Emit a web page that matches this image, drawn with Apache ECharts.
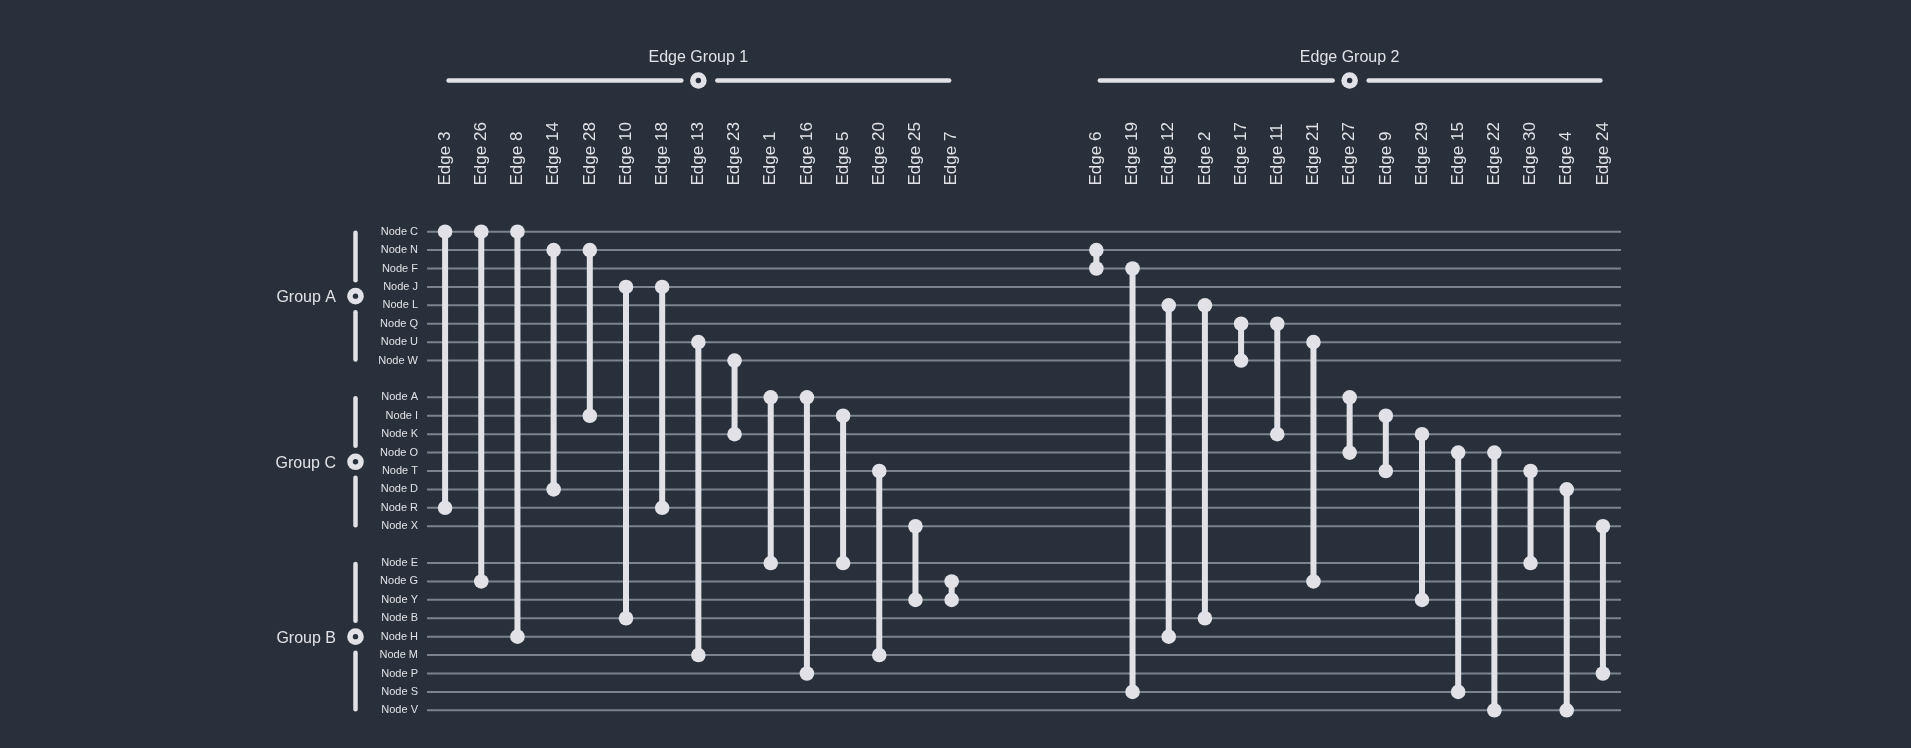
<!DOCTYPE html>
<html><head><meta charset="utf-8">
<script src="https://cdn.jsdelivr.net/npm/echarts@6/dist/echarts.min.js"></script>
<style>html,body{margin:0;padding:0;background:#29303b}#chart{width:1911px;height:748px}</style>
</head><body><div id="chart"></div>
<script>
// ---- data ----
const groupNames = ['Group A', 'Group C', 'Group B'];
const groupANodes = ['Node C','Node N','Node F','Node J','Node L','Node Q','Node U','Node W'];
const groupCNodes = ['Node A','Node I','Node K','Node O','Node T','Node D','Node R','Node X'];
const groupBNodes = ['Node E','Node G','Node Y','Node B','Node H','Node M','Node P','Node S','Node V'];

const edgeGroupNames = ['Edge Group 1', 'Edge Group 2'];
const edgeGroup1 = ['Edge 3','Edge 26','Edge 8','Edge 14','Edge 28','Edge 10','Edge 18','Edge 13','Edge 23','Edge 1','Edge 16','Edge 5','Edge 20','Edge 25','Edge 7'];
const edgeGroup1From = ['Node C','Node C','Node C','Node N','Node N','Node J','Node J','Node U','Node W','Node A','Node A','Node I','Node T','Node X','Node G'];
const edgeGroup1To   = ['Node R','Node G','Node H','Node D','Node I','Node B','Node R','Node M','Node K','Node E','Node P','Node E','Node M','Node Y','Node Y'];
const edgeGroup2 = ['Edge 6','Edge 19','Edge 12','Edge 2','Edge 17','Edge 11','Edge 21','Edge 27','Edge 9','Edge 29','Edge 15','Edge 22','Edge 30','Edge 4','Edge 24'];
const edgeGroup2From = ['Node N','Node F','Node L','Node L','Node Q','Node Q','Node U','Node A','Node I','Node K','Node O','Node O','Node T','Node D','Node X'];
const edgeGroup2To   = ['Node F','Node S','Node H','Node B','Node W','Node K','Node G','Node O','Node T','Node Y','Node S','Node V','Node E','Node V','Node P'];

// ---- derived layout structures ----
const BG = '#29303b', LIGHT = '#e1e1e7', GRIDLINE = '#7b838f';
const FONT = '"Liberation Sans", Arial, Helvetica, sans-serif';
const nodeGroups = [groupANodes, groupCNodes, groupBNodes];
const rows = [];
const groupRanges = [];
nodeGroups.forEach((g, gi) => {
  if (gi > 0) rows.push('__gap' + gi);
  const first = rows.length;
  g.forEach(n => rows.push(n));
  groupRanges.push([0, first, rows.length - 1, gi]);
});
const edgeGroups = [[edgeGroup1, edgeGroup1From, edgeGroup1To], [edgeGroup2, edgeGroup2From, edgeGroup2To]];
const cols = [];
const edgeData = [];
const colRanges = [];
edgeGroups.forEach((eg, gi) => {
  if (gi > 0) { cols.push('__sp1'); cols.push('__sp2'); cols.push('__sp3'); }
  const first = cols.length;
  eg[0].forEach((e, i) => {
    edgeData.push([cols.length, rows.indexOf(eg[1][i]), rows.indexOf(eg[2][i])]);
    cols.push(e);
  });
  const last = cols.length - 1;
  colRanges.push([first, last, Math.round((first + last) / 2), 0, gi]);
});
const nodeLineData = rows.map((r, i) => [0, i, r]).filter(d => !String(d[2]).startsWith('__'));

function ring(cx, cy) {
  return [
    {type: 'circle', shape: {cx, cy, r: 8.3}, style: {fill: LIGHT}},
    {type: 'circle', shape: {cx, cy, r: 2.7}, style: {fill: BG}}
  ];
}

const chart = echarts.init(document.getElementById('chart'), null, {renderer: 'canvas'});
chart.setOption({
  backgroundColor: BG,
  animation: false,
  grid: {left: 427, top: 222.5, width: 1194, height: 497, containLabel: false, outerBoundsMode: 'none'},
  xAxis: {
    type: 'category', data: cols, position: 'top', boundaryGap: true,
    axisLine: {show: false}, axisTick: {show: false}, splitLine: {show: false},
    axisLabel: {
      rotate: -90, margin: 37, interval: 0, fontSize: 17, color: LIGHT, fontFamily: FONT,
      formatter: v => v.startsWith('__') ? '' : v
    }
  },
  yAxis: {
    type: 'category', data: rows, inverse: true, boundaryGap: true,
    axisLine: {show: false}, axisTick: {show: false}, splitLine: {show: false},
    axisLabel: {
      margin: 9, interval: 0, fontSize: 11, color: LIGHT, fontFamily: FONT,
      formatter: v => v.startsWith('__') ? '' : v
    }
  },
  series: [
    { // horizontal node lines
      type: 'custom', clip: false, silent: true,
      encode: {x: 0, y: 1},
      data: nodeLineData,
      renderItem: (params, api) => {
        const cs = params.coordSys;
        const y = api.coord([0, api.value(1)])[1];
        return {type: 'line', shape: {x1: cs.x, y1: y, x2: cs.x + cs.width, y2: y},
                style: {stroke: GRIDLINE, lineWidth: 2}};
      }
    },
    { // edges
      type: 'custom', clip: false,
      encode: {x: 0, y: [1, 2]},
      data: edgeData,
      renderItem: (params, api) => {
        const x = api.coord([api.value(0), 0])[0];
        const y1 = api.coord([0, api.value(1)])[1];
        const y2 = api.coord([0, api.value(2)])[1];
        return {type: 'group', children: [
          {type: 'line', shape: {x1: x, y1, x2: x, y2}, style: {stroke: LIGHT, lineWidth: 6}},
          {type: 'circle', shape: {cx: x, cy: y1, r: 7.3}, style: {fill: LIGHT}},
          {type: 'circle', shape: {cx: x, cy: y2, r: 7.3}, style: {fill: LIGHT}}
        ]};
      }
    },
    { // node group brackets
      type: 'custom', clip: false, silent: true,
      encode: {x: 0, y: [1, 2]},
      data: groupRanges,
      renderItem: (params, api) => {
        const cs = params.coordSys;
        const x = cs.x - 71.5;
        const y1 = api.coord([0, api.value(1)])[1];
        const y2 = api.coord([0, api.value(2)])[1];
        const yc = (y1 + y2) / 2;
        const lineStyle = {stroke: LIGHT, lineWidth: 4.5, lineCap: 'round'};
        return {type: 'group', children: [
          {type: 'line', shape: {x1: x, y1: y1 + 1, x2: x, y2: yc - 16}, style: lineStyle},
          {type: 'line', shape: {x1: x, y1: yc + 16, x2: x, y2: y2 - 1}, style: lineStyle},
          ...ring(x, yc),
          {type: 'text', style: {text: groupNames[api.value(3)], x: x - 19.5, y: yc + 1.5,
            align: 'right', verticalAlign: 'middle', fill: LIGHT, fontSize: 16, fontFamily: FONT}}
        ]};
      }
    },
    { // edge group headers
      type: 'custom', clip: false, silent: true,
      encode: {x: [0, 1, 2], y: 3},
      data: colRanges,
      renderItem: (params, api) => {
        const cs = params.coordSys;
        const y = cs.y - 142;
        const x1 = api.coord([api.value(0), 0])[0];
        const x2 = api.coord([api.value(1), 0])[0];
        const xc = api.coord([api.value(2), 0])[0];
        const lineStyle = {stroke: LIGHT, lineWidth: 4.5, lineCap: 'round'};
        return {type: 'group', children: [
          {type: 'line', shape: {x1: x1 + 3.5, y1: y, x2: xc - 17, y2: y}, style: lineStyle},
          {type: 'line', shape: {x1: xc + 19, y1: y, x2: x2 - 2.5, y2: y}, style: lineStyle},
          ...ring(xc, y),
          {type: 'text', style: {text: edgeGroupNames[api.value(4)], x: xc, y: y - 23,
            align: 'center', verticalAlign: 'middle', fill: LIGHT, fontSize: 16, fontFamily: FONT}}
        ]};
      }
    }
  ]
});
</script>
</body></html>
